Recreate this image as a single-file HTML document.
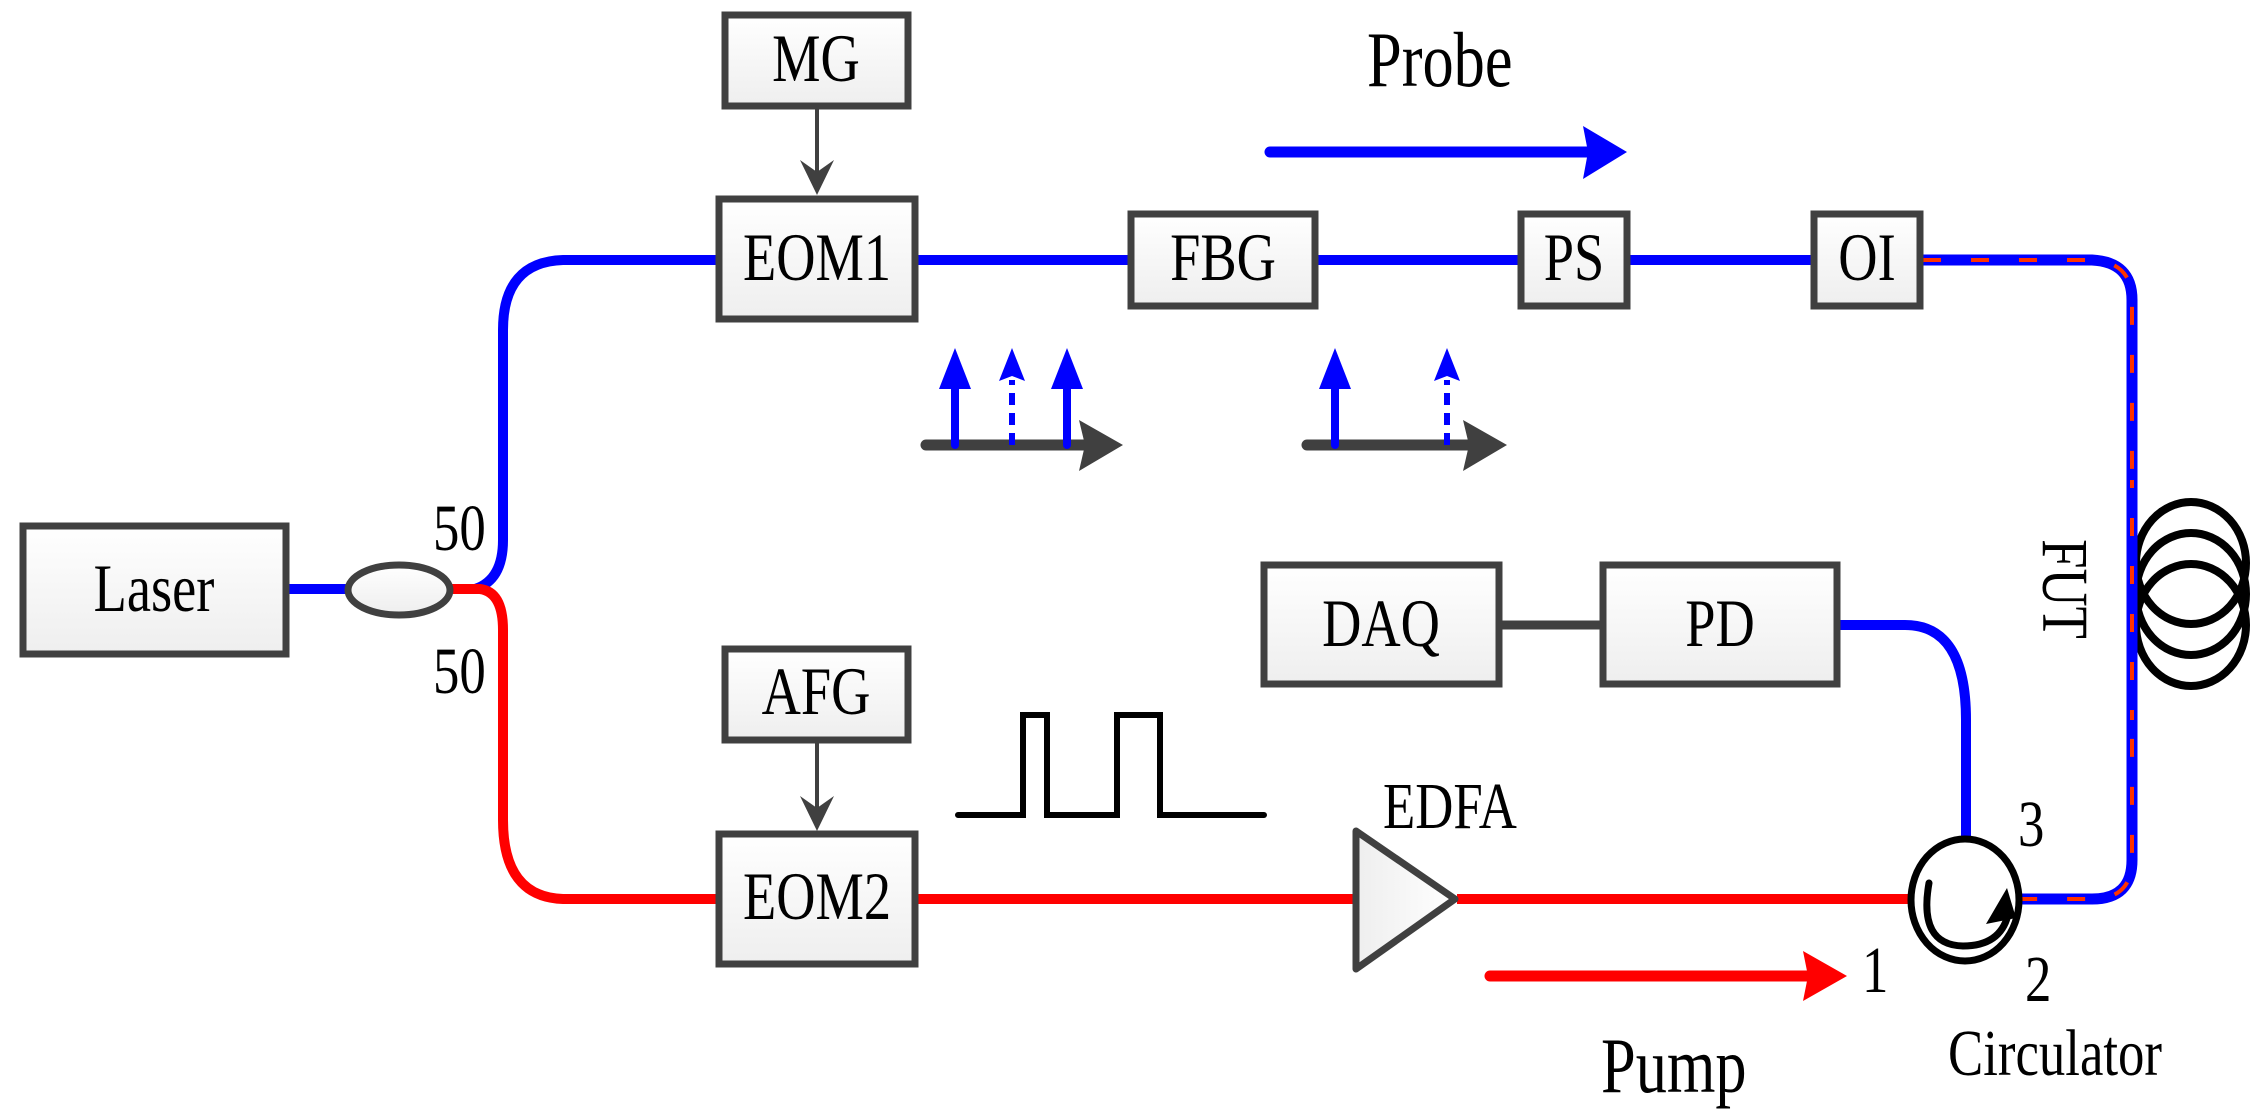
<!DOCTYPE html>
<html><head><meta charset="utf-8"><style>
html,body{margin:0;padding:0;background:#fff;}
svg{display:block;}
</style></head><body>
<svg width="2264" height="1120" viewBox="0 0 2264 1120" xmlns="http://www.w3.org/2000/svg">
<defs>
<linearGradient id="g" x1="0" y1="0" x2="0" y2="1"><stop offset="0" stop-color="#ffffff"/><stop offset="1" stop-color="#eeeeee"/></linearGradient>
<linearGradient id="gh" x1="0" y1="0" x2="1" y2="0"><stop offset="0" stop-color="#eeeeee"/><stop offset="1" stop-color="#ffffff"/></linearGradient>
</defs>

<path d="M453 589 L475 589 Q503 580 503 540 L503 330 Q503 262 563 260 L716 260" fill="none" stroke="#0000ff" stroke-width="10" stroke-linecap="round"/>
<line x1="918" y1="260" x2="1128" y2="260" stroke="#0000ff" stroke-width="10"/>
<line x1="1318" y1="260" x2="1518" y2="260" stroke="#0000ff" stroke-width="10"/>
<line x1="1630" y1="260" x2="1811" y2="260" stroke="#0000ff" stroke-width="10"/>
<path d="M1923 260 L2092 260 Q2132 262 2132 300 L2132 860 Q2132 899 2092 899 L2020 899" fill="none" stroke="#0000ff" stroke-width="11"/>
<path d="M1923 260 L2092 260 Q2132 262 2132 300 L2132 860 Q2132 899 2092 899 L2020 899" fill="none" stroke="#ff3300" stroke-width="4" stroke-dasharray="18 30"/>
<line x1="289" y1="589" x2="345" y2="589" stroke="#0000ff" stroke-width="10" stroke-linecap="round"/>
<path d="M453 589 L480 589 Q503 592 503 630 L503 820 Q503 897 563 899 L716 899" fill="none" stroke="#ff0000" stroke-width="10" stroke-linecap="round"/>
<line x1="918" y1="899" x2="1354" y2="899" stroke="#ff0000" stroke-width="10"/>
<line x1="1457" y1="899" x2="1910" y2="899" stroke="#ff0000" stroke-width="10"/>
<path d="M1840 625 L1905 625 Q1966 625 1966 720 L1966 839" fill="none" stroke="#0000ff" stroke-width="10"/>
<line x1="1502" y1="625" x2="1600" y2="625" stroke="#404040" stroke-width="9"/>

<g fill="url(#g)" stroke="#404040" stroke-width="7">
<rect x="725" y="15" width="183" height="91"/>
<rect x="719" y="199" width="196" height="120"/>
<rect x="1131" y="214" width="184" height="92"/>
<rect x="1521" y="214" width="106" height="92"/>
<rect x="1814" y="214" width="106" height="92"/>
<rect x="23" y="526" width="263" height="128"/>
<rect x="725" y="649" width="183" height="91"/>
<rect x="719" y="834" width="196" height="130"/>
<rect x="1264" y="565" width="235" height="119"/>
<rect x="1603" y="565" width="234" height="119"/>
</g>
<ellipse cx="399" cy="590" rx="51" ry="25" fill="url(#g)" stroke="#404040" stroke-width="7"/>
<polygon points="1356,831 1455,899 1356,969" fill="url(#gh)" stroke="#404040" stroke-width="7" stroke-linejoin="round"/>

<line x1="817" y1="108" x2="817" y2="175" stroke="#404040" stroke-width="4"/>
<polygon points="800,160 817,195 834,160 817,172" fill="#404040"/>
<line x1="817" y1="742" x2="817" y2="810" stroke="#404040" stroke-width="4"/>
<polygon points="800,796 817,831 834,796 817,808" fill="#404040"/>

<g>
<line x1="926" y1="445" x2="1095" y2="445" stroke="#404040" stroke-width="11" stroke-linecap="round"/>
<polygon points="1079,420 1123,445 1079,471 1085,445" fill="#404040"/>
<line x1="955" y1="445" x2="955" y2="385" stroke="#0000ff" stroke-width="8" stroke-linecap="round"/>
<polygon points="939,389 955,348 971,389" fill="#0000ff"/>
<line x1="1067" y1="445" x2="1067" y2="385" stroke="#0000ff" stroke-width="8" stroke-linecap="round"/>
<polygon points="1051,389 1067,348 1083,389" fill="#0000ff"/>
<line x1="1012" y1="445" x2="1012" y2="380" stroke="#0000ff" stroke-width="6" stroke-dasharray="12 8"/>
<polygon points="999,381 1012,348 1025,381 1012,376" fill="#0000ff"/>

<line x1="1307" y1="445" x2="1475" y2="445" stroke="#404040" stroke-width="11" stroke-linecap="round"/>
<polygon points="1463,420 1507,445 1463,471 1469,445" fill="#404040"/>
<line x1="1335" y1="445" x2="1335" y2="385" stroke="#0000ff" stroke-width="8" stroke-linecap="round"/>
<polygon points="1319,389 1335,348 1351,389" fill="#0000ff"/>
<line x1="1447" y1="445" x2="1447" y2="380" stroke="#0000ff" stroke-width="6" stroke-dasharray="12 8"/>
<polygon points="1434,381 1447,348 1460,381 1447,376" fill="#0000ff"/>
</g>

<line x1="1270" y1="152" x2="1595" y2="152" stroke="#0000ff" stroke-width="11" stroke-linecap="round"/>
<polygon points="1583,126 1627,152 1583,179 1588,152" fill="#0000ff"/>
<line x1="1490" y1="976" x2="1815" y2="976" stroke="#ff0000" stroke-width="11" stroke-linecap="round"/>
<polygon points="1803,951 1847,976 1803,1001 1808,976" fill="#ff0000"/>

<polyline points="958,815 1023,815 1023,715 1047,715 1047,815 1117,815 1117,715 1160,715 1160,815 1264,815" fill="none" stroke="#000" stroke-width="6" stroke-linecap="round"/>

<ellipse cx="1965" cy="900" rx="54" ry="61" fill="#fff" stroke="#000" stroke-width="7"/>
<path d="M1929 883 Q1918 945 1963 946 Q2000 946 2008 915" fill="none" stroke="#000" stroke-width="7" stroke-linecap="round"/>
<polygon points="2007,888 1986,924 2016,918" fill="#000"/>

<g fill="none" stroke="#000" stroke-width="8">
<ellipse cx="2191" cy="563" rx="55" ry="61"/>
<ellipse cx="2191" cy="594" rx="55" ry="61"/>
<ellipse cx="2191" cy="625" rx="55" ry="61"/>
</g>
<line x1="2132" y1="480" x2="2132" y2="720" stroke="#0000ff" stroke-width="11"/>
<line x1="2132" y1="480" x2="2132" y2="720" stroke="#ff3300" stroke-width="4" stroke-dasharray="18 30" stroke-dashoffset="10"/>

<g font-family="Liberation Serif, 'DejaVu Serif', serif" fill="#000">
<g font-size="68" text-anchor="middle">
<g transform="translate(816,81) scale(0.8,1)"><text>MG</text></g>
<g transform="translate(817,280) scale(0.8,1)"><text>EOM1</text></g>
<g transform="translate(1223,280) scale(0.8,1)"><text>FBG</text></g>
<g transform="translate(1574,280) scale(0.8,1)"><text>PS</text></g>
<g transform="translate(1867,280) scale(0.8,1)"><text>OI</text></g>
<g transform="translate(154,611) scale(0.8,1)"><text>Laser</text></g>
<g transform="translate(816,714) scale(0.8,1)"><text>AFG</text></g>
<g transform="translate(817,919) scale(0.8,1)"><text>EOM2</text></g>
<g transform="translate(1381,646) scale(0.8,1)"><text>DAQ</text></g>
<g transform="translate(1720,646) scale(0.8,1)"><text>PD</text></g>
</g>
<g font-size="66">
<g transform="translate(1383,828) scale(0.8,1)"><text>EDFA</text></g>
<g transform="translate(433,550) scale(0.8,1)"><text>50</text></g>
<g transform="translate(433,693) scale(0.8,1)"><text>50</text></g>
<g transform="translate(1862,992) scale(0.8,1)"><text>1</text></g>
<g transform="translate(2018,846) scale(0.8,1)"><text>3</text></g>
<g transform="translate(2025,1001) scale(0.8,1)"><text>2</text></g>
<g transform="translate(1948,1075) scale(0.8,1)"><text>Circulator</text></g>
<g transform="translate(2043,589) rotate(90) scale(0.8,1)"><text text-anchor="middle">FUT</text></g>
</g>
<g font-size="78">
<g transform="translate(1367,86) scale(0.8,1)"><text>Probe</text></g>
<g transform="translate(1601,1092) scale(0.8,1)"><text>Pump</text></g>
</g>
</g>
</svg>
</body></html>
